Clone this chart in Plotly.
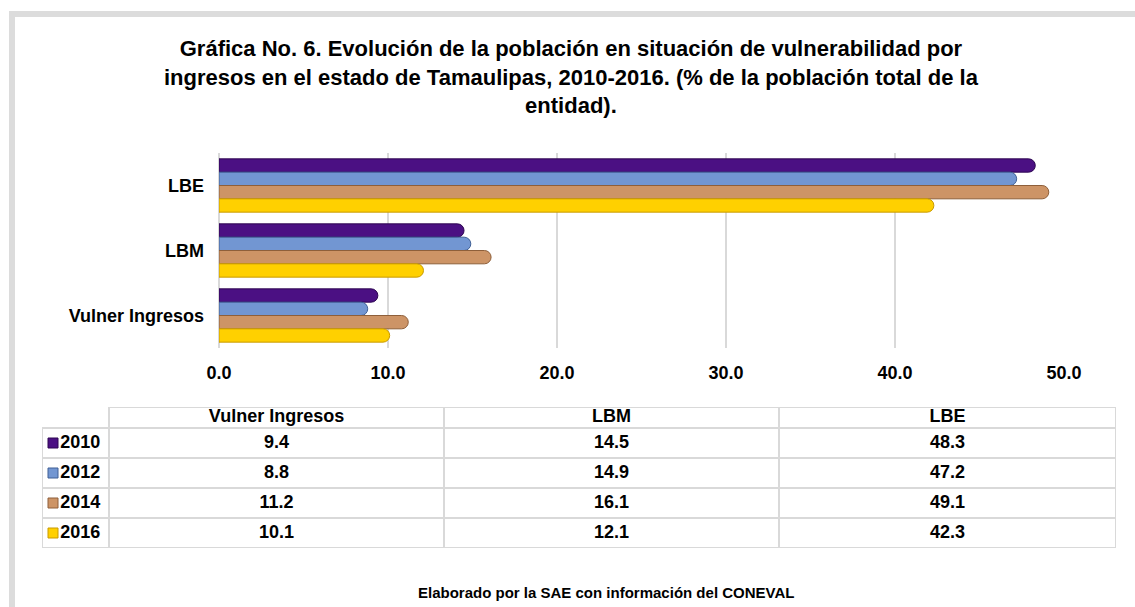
import plotly.graph_objects as go

W, H = 1135, 607

categories = ["Vulner Ingresos", "LBM", "LBE"]
years = ["2010", "2012", "2014", "2016"]
values_2010 = [9.4, 14.5, 48.3]
values_2012 = [8.8, 14.9, 47.2]
values_2014 = [11.2, 16.1, 49.1]
values_2016 = [10.1, 12.1, 42.3]
series = [values_2010, values_2012, values_2014, values_2016]
colors = ["#4B1083", "#7296D2", "#CD9466", "#FFD000"]
edge_colors = ["#2E0752", "#3F5F95", "#8E5F3A", "#C99A00"]
x_ticks = [0, 10, 20, 30, 40, 50]

title_text = ("Gráfica No. 6. Evolución de la población en situación de vulnerabilidad por<br>"
              "ingresos en el estado de Tamaulipas, 2010-2016. (% de la población total de la<br>"
              "entidad).")
source_text = "Elaborado por la SAE con información del CONEVAL"

FONT = "Liberation Sans, Arial, sans-serif"
GRID = "#d9d9d9"


def px_x(p):
    return p / W


def px_y(p):
    return 1 - p / H


fig = go.Figure()

# ---- bar chart ----
for yr, vals, c, ec in zip(years, series, colors, edge_colors):
    fig.add_trace(go.Bar(
        y=categories, x=vals, name=yr, orientation="h",
        marker=dict(color=c, line=dict(color=ec, width=1)),
        showlegend=False, hoverinfo="x+name",
    ))

# ---- data table (drawn on its own axis pair, in table units) ----
col_widths = [67, 335, 335, 337]
row_heights = [21, 30, 30, 30, 30]
col_edges = [0]
for w in col_widths:
    col_edges.append(col_edges[-1] + w)
row_edges = [0]
for h in row_heights:
    row_edges.append(row_edges[-1] + h)
col_centers = [(col_edges[i] + col_edges[i + 1]) / 2 for i in range(len(col_widths))]
row_centers = [(row_edges[i] + row_edges[i + 1]) / 2 for i in range(len(row_heights))]

table_font = dict(family=FONT, size=18, color="black", weight="bold")

# header
fig.add_trace(go.Scatter(
    x=col_centers[1:], y=[row_centers[0]] * len(categories), text=categories,
    mode="text", textposition="middle center", textfont=table_font,
    xaxis="x2", yaxis="y2", showlegend=False, hoverinfo="skip", cliponaxis=False,
))
# value rows + legend keys
for r, (yr, vals, c, ec) in enumerate(zip(years, series, colors, edge_colors)):
    yc = row_centers[r + 1]
    fig.add_trace(go.Scatter(
        x=col_centers[1:], y=[yc] * len(vals), text=["%.1f" % v for v in vals],
        mode="text", textposition="middle center", textfont=table_font,
        xaxis="x2", yaxis="y2", showlegend=False, hoverinfo="skip", cliponaxis=False,
    ))
    fig.add_trace(go.Scatter(
        x=[11], y=[yc], text=[yr], mode="markers+text", textposition="middle right",
        marker=dict(symbol="square", size=10, color=c, line=dict(color=ec, width=1)),
        textfont=table_font,
        xaxis="x2", yaxis="y2", showlegend=False, hoverinfo="skip", cliponaxis=False,
    ))

shapes = []
# horizontal table lines
for i, yv in enumerate(row_edges):
    x_start = col_edges[1] if i == 0 else col_edges[0]
    shapes.append(dict(type="line", xref="x2", yref="y2", x0=x_start, x1=col_edges[-1],
                       y0=yv, y1=yv, line=dict(color=GRID, width=2), layer="below"))
# vertical table lines
for j, xv in enumerate(col_edges):
    y_start = row_edges[1] if j == 0 else row_edges[0]
    shapes.append(dict(type="line", xref="x2", yref="y2", x0=xv, x1=xv,
                       y0=y_start, y1=row_edges[-1], line=dict(color=GRID, width=2), layer="below"))
# outer gray frame (its right/bottom sides fall outside the picture, as in the reference)
shapes.append(dict(type="path", xref="paper", yref="paper",
                   path="M %f,0 L %f,%f L 1,%f" % (px_x(12), px_x(12), px_y(14), px_y(14)),
                   line=dict(color="#dcdcdc", width=6), layer="above"))

fig.update_layout(
    template="none",
    width=W, height=H, autosize=False,
    margin=dict(l=0, r=0, t=0, b=0, pad=0, autoexpand=False),
    paper_bgcolor="white", plot_bgcolor="white",
    barmode="group", bargap=0.18, bargroupgap=0.0,
    barcornerradius=7,
    font=dict(family=FONT, color="black"),
    xaxis=dict(
        domain=[px_x(219), px_x(1064)], automargin=False,
        range=[0, 50], tickvals=x_ticks, tickformat=".1f",
        showgrid=True, gridcolor=GRID, gridwidth=2,
        zeroline=True, zerolinecolor=GRID, zerolinewidth=2,
        showline=False, ticks="", ticklabelstandoff=12,
        tickfont=dict(family=FONT, size=18, color="black", weight="bold"),
        fixedrange=True,
    ),
    yaxis=dict(
        domain=[px_y(348), px_y(153)], automargin=False,
        type="category", categoryorder="array",
        categoryarray=["LBE", "LBM", "Vulner Ingresos"],
        autorange="reversed",
        showgrid=False, zeroline=False, showline=False, ticks="",
        ticklabelstandoff=14,
        tickfont=dict(family=FONT, size=18, color="black", weight="bold"),
        fixedrange=True,
    ),
    xaxis2=dict(
        domain=[px_x(42), px_x(42 + col_edges[-1])], anchor="y2", automargin=False,
        range=[0, col_edges[-1]], visible=False, fixedrange=True,
    ),
    yaxis2=dict(
        domain=[px_y(407 + row_edges[-1]), px_y(407)], anchor="x2", automargin=False,
        range=[row_edges[-1], 0], visible=False, fixedrange=True,
    ),
    annotations=[
        dict(text="<b>%s</b>" % title_text, x=px_x(571), y=px_y(77),
             xref="paper", yref="paper", xanchor="center", yanchor="middle",
             showarrow=False, font=dict(family=FONT, size=22, color="black")),
        dict(text="<b>%s</b>" % source_text, x=px_x(416), y=px_y(592),
             xref="paper", yref="paper", xanchor="left", yanchor="middle",
             showarrow=False, font=dict(family=FONT, size=15, color="black")),
    ],
    shapes=shapes,
)

fig.write_html(
    "out.html",
    config={"responsive": False, "displayModeBar": False},
    post_script="document.body.style.margin='0px';document.body.style.overflow='hidden';",
)
